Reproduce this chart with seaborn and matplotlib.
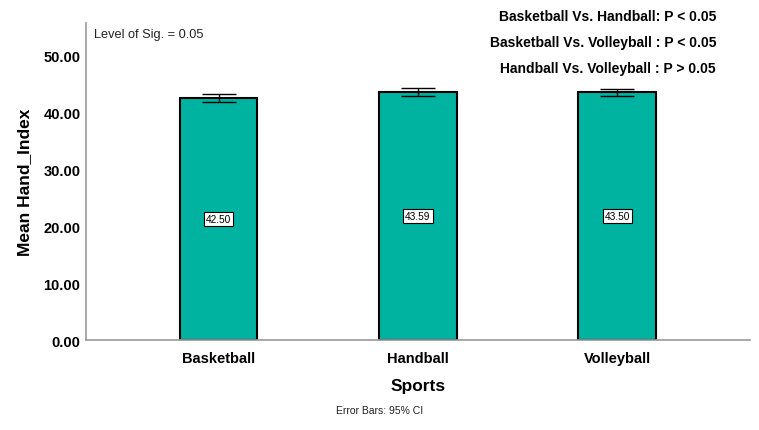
import matplotlib
matplotlib.use("Agg")
import matplotlib.pyplot as plt
import seaborn as sns
import numpy as np

# Chart data
sports = ["Basketball", "Handball", "Volleyball"]
means = [42.50, 43.59, 43.50]
ci_low = [41.85, 42.95, 42.85]
ci_high = [43.20, 44.25, 44.15]
comparisons = [
    "Basketball Vs. Handball: P < 0.05",
    "Basketball Vs. Volleyball : P < 0.05",
    "Handball Vs. Volleyball : P > 0.05",
]

sns.set_style("white")
plt.rcParams["font.family"] = ["Liberation Sans", "DejaVu Sans"]
plt.rcParams["text.color"] = "black"
plt.rcParams["axes.labelcolor"] = "black"
plt.rcParams["xtick.color"] = "black"
plt.rcParams["ytick.color"] = "black"

fig = plt.figure(figsize=(7.59, 4.31), dpi=100)
ax = fig.add_axes([0.1133, 0.2088, 0.8747, 0.7355])

sns.barplot(x=sports, y=means, color="#00B3A0", saturation=1, edgecolor="black",
            linewidth=1.5, width=0.39, errorbar=None, ax=ax)

# 95% CI error bars
m = np.array(means)
yerr = [m - np.array(ci_low), np.array(ci_high) - m]
ax.errorbar(np.arange(len(sports)), m, yerr=yerr, fmt="none",
            ecolor="black", elinewidth=1.0, capsize=12, capthick=1.0)

# Value labels in the middle of each bar
for i, v in enumerate(means):
    ax.text(i, v / 2, f"{v:.2f}", ha="center", va="center", fontsize=7.3,
            bbox=dict(boxstyle="square,pad=0.2", fc="white", ec="black", lw=0.8))

ax.set_xlim(-0.665, 2.665)
ax.set_ylim(0, 55.7)
ax.set_yticks([0, 10, 20, 30, 40, 50])
ax.set_yticklabels([f"{t:.2f}" for t in [0, 10, 20, 30, 40, 50]])
ax.tick_params(axis="both", length=0, labelsize=10.5)
ax.tick_params(axis="x", pad=8)
ax.tick_params(axis="y", pad=4)
for lab in ax.get_xticklabels() + ax.get_yticklabels():
    lab.set_fontweight("bold")

ax.set_xlabel("Sports", fontsize=12.5, fontweight="bold", labelpad=9)
ax.set_ylabel("Mean Hand_Index", fontsize=12.5, fontweight="bold", labelpad=8)

for side in ["top", "right"]:
    ax.spines[side].set_visible(False)
for side in ["left", "bottom"]:
    ax.spines[side].set_color("#999999")
    ax.spines[side].set_linewidth(1.2)

ax.text(0.012, 0.965, "Level of Sig. = 0.05", transform=ax.transAxes,
        fontsize=9.2, ha="left", va="center", color="#222222")

for k, s in enumerate(comparisons):
    fig.text(716 / 759, 1 - (17 + 26 * k) / 431, s, ha="right", va="center",
             fontsize=10, fontweight="bold")

fig.text(380 / 759, 1 - 411 / 431, "Error Bars: 95% CI", ha="center",
         va="center", fontsize=7.5, color="#222222")

fig.savefig("out.png", dpi=100)
